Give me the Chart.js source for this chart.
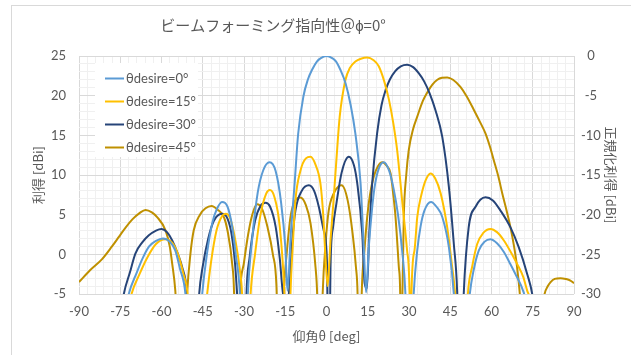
<!DOCTYPE html>
<html>
<head>
<meta charset="utf-8">
<script src="https://cdn.jsdelivr.net/npm/chart.js@4/dist/chart.umd.min.js"></script>
<style>
  html, body { margin: 0; padding: 0; background: #fff; }
  #wrap { width: 631px; height: 355px; }
</style>
</head>
<body>
<div id="wrap"><canvas id="beamChart" width="631" height="355"></canvas></div>
<script>
// ── Data (angle in deg, gain in dBi) ────────────────────────────────
const SERIES_LABELS = ["θdesire=0°", "θdesire=15°", "θdesire=30°", "θdesire=45°"];
const X_TICKS = [-90, -75, -60, -45, -30, -15, 0, 15, 30, 45, 60, 75, 90];
const Y_TICKS = [-5, 0, 5, 10, 15, 20, 25];
const Y2_TICKS = [-30, -25, -20, -15, -10, -5, 0];

const ANG_0 = [-80, -71.9, -69, -67, -64.5, -62, -59.5, -57, -55, -53.3, -51.3, -48.5,
  -45.2, -43.5, -41.5, -40, -38, -36, -34.3, -33, -31.5, -30,
  -28.6, -27, -25, -23, -20.7, -18.5, -16.5, -15, -14.2,
  -13, -11.6, -10.3, -8.4, -6.8, -5.2, -3.5, -2.2, 0, 2.2, 3.5, 5, 6.9, 8.8, 10.5, 12.4, 13.6, 14.4,
  15.4, 16.5, 17.5, 19, 20.8, 22.8, 24.5, 26, 27.5, 28.7, 30,
  31.7, 33, 34.2, 35.6, 38, 40, 42.1, 44.5, 46.3, 48.5,
  52.1, 53.5, 55.4, 57.5, 59.6, 62, 64.5, 66.5, 68.7, 71.7, 72.5, 80];
const GAIN_0 = [-20, -5, -2.3, -0.6, 1.0, 1.7, 2.0, 1.6, 0.5, -1.8, -5, -20,
  -5, 0, 4, 5.6, 6.6, 6.0, 3.5, 0, -5, -20,
  -5, 2, 7.8, 10.6, 11.6, 10.5, 6.5, 1, -4.6,
  2.5, 8.9, 15.2, 19.9, 22.0, 23.3, 24.3, 24.7, 25, 24.7, 24.3, 23.3, 21.6, 18.8, 15.2, 8.9, 0.5, -4.8,
  1, 5.5, 8.5, 10.8, 11.6, 10.5, 8.1, 5, 0.5, -5, -20,
  -5, 0.5, 3.5, 5.5, 6.6, 6.0, 4.7, 0.9, -5, -20,
  -5, -2, 0.5, 1.6, 1.9, 1.4, 0.3, -1.0, -2.5, -4.8, -6, -20];

const ANG_15 = [-80, -70.9, -68, -65, -62, -58.5, -56, -54, -52, -50.5, -47.8,
  -43.4, -42, -40, -38, -36.7, -35, -33, -31.5, -30.7, -29.4,
  -27.6, -26, -24, -22, -20.6, -19, -17, -15.3, -14,
  -13.1, -12.2, -11.3, -9.5, -7.5, -5.8, -4, -2.2, -1.2, -0.5, 0.4,
  1.5, 2.5, 3.6, 4.8, 6.9, 8.5, 10.5, 12.5, 14.8, 17, 19, 21, 22.7, 24.3, 25.7, 27.5, 29.3, 30.2, 30.6,
  30.9, 32, 33, 34.5, 36, 37.8, 39.5, 41.5, 43.9, 45.7, 46.8, 49.4,
  51.4, 53, 54.8, 57, 59.6, 62, 64.5, 67, 69.3, 71.5, 73, 73.9, 80];
const GAIN_15 = [-20, -5, -2.5, -0.3, 1.3, 1.9, 1.4, 0, -2.5, -5, -20,
  -5, -1, 3, 4.8, 5.1, 4.5, 1.5, -2, -5, -20,
  -5, 0, 5, 7.6, 8.1, 7.3, 3.5, -5, -20,
  -5, 1.5, 6.8, 10.5, 12.1, 12.3, 11.3, 8.9, 5, 0.5, -4.0,
  2, 6.5, 11.9, 17.35, 22, 23.5, 24.3, 24.65, 24.8, 24.5, 23.7, 21.8, 19.5, 16.5, 13.1, 6.8, 0.5, -5, -20,
  -5, 0.5, 4.7, 7.5, 9.3, 10.2, 9.6, 7.7, 3.4, -1.6, -5, -20,
  -5, -1.5, 1.3, 2.7, 3.2, 2.8, 1.75, 0.3, -1.2, -2.8, -4.6, -5.5, -20];

const ANG_30 = [-80, -73.7, -71.5, -69.5, -67, -64.6, -62, -60, -58, -56.1, -54, -52.5, -50.7, -48.6,
  -46.3, -45, -43, -41, -38, -36, -34.5, -33.3, -32.5, -30,
  -29.1, -28, -26, -24, -22.2, -20.5, -18.5, -17, -15.8, -14.6,
  -13.7, -12.5, -11.3, -9, -6.4, -4.5, -2.8, -1, 0.2, 0.8,
  1.5, 2.4, 3.6, 5.5, 8.1, 10, 11.2, 13, 13.9, 14.7,
  15.6, 16.6, 18.4, 20, 21.5, 23, 25, 27, 29.3, 31.5, 33.6, 35.5, 37.5, 39.6, 42.1, 44.5, 46.3, 47.5, 48.6,
  49.9, 51.7, 54.2, 57.8, 60.5, 63.3, 66.9, 69.9, 73, 74.8, 80];
const GAIN_30 = [-20, -5, -2.3, 0.1, 1.5, 2.4, 3.0, 3.2, 2.8, 1.75, 0, -1.6, -5, -20,
  -5, -1.5, 2, 4.2, 5.1, 4.5, 2.5, -1, -5, -20,
  -5, -0.5, 4.2, 6.1, 6.5, 6.0, 3.5, -0.5, -5, -5.8,
  -5, 1.5, 5.5, 8.0, 8.7, 8.0, 6.0, 3.0, -1.2, -20,
  -1, 3.5, 6.4, 10.3, 12.3, 11.2, 8.9, 2.6, -3.7, -4.3,
  3, 8.9, 15.25, 18.8, 20.7, 22.0, 23.1, 23.7, 23.9, 23.6, 22.8, 21.8, 20.3, 18.2, 14.8, 8.5, 1.3, -4.6, -20,
  -5, 3.4, 6.0, 7.2, 6.8, 5.5, 3.4, 0.9, -2.5, -5, -20];

const ANG_45 = [-90, -86, -81.6, -78, -75.5, -73, -70.6, -68, -65.8, -63.5, -61.6, -58.5, -57, -56.1, -55, -52.5,
  -50.7, -49.5, -48.3, -46, -44, -41.8, -39.5, -37.3, -36, -34.3, -33.6, -32.9,
  -31.5, -30, -28.5, -27, -25.2, -23.5, -21.5, -19.5, -18.2, -17,
  -15.6, -14.5, -13.1, -11.5, -9.5, -7.5, -5.8, -4.0, -3.4, -2.5,
  -1.4, -0.3, 0.8, 2.5, 4.5, 5.5, 7.7, 9.5, 10.7, 11.3, 12,
  12.8, 13.8, 14.8, 15.8, 17.2, 18.7, 20.3, 22, 23.3, 24.3, 25.1, 26.3, 26.8, 27.2,
  27.6, 28.1, 29, 29.9, 31.5, 33, 35, 36.8, 38.5, 40.3, 42, 43.9, 46, 48.7, 51, 53.6, 55.8, 57.8,
  59.5, 60.8, 62.5, 63.9, 65.5, 66.9, 68.2, 69.3, 70.3, 73.2,
  79.3, 80.5, 81.5, 83, 85.1, 87, 88.7, 90];
const GAIN_45 = [-3.5, -2, -0.6, 1.0, 2.2, 3.4, 4.4, 5.2, 5.6, 5.3, 4.7, 3.0, 1.0, -1.2, -4.5, -20,
  -5, 0, 3.0, 5.0, 5.8, 6.1, 5.6, 4.7, 3, -1.2, -5, -20,
  -5, -1, 2.5, 5.0, 6.3, 5.8, 3.5, 0, -4, -20,
  -5, 0, 4.7, 6.7, 7.15, 6.2, 3.9, -1.6, -5, -20,
  -5, 1.5, 5.5, 7.6, 8.6, 8.7, 6.8, 2.6, -1.6, -5, -20,
  -5, 0.5, 4.7, 7.5, 9.8, 11.1, 11.6, 11.1, 10.2, 7.5, 4.7, -1.6, -5, -20,
  -5, 4.7, 10, 13.1, 15.8, 17.35, 19.3, 20.5, 21.4, 22.0, 22.25, 22.3, 22.0, 21.1, 19.9, 18.2, 16.7, 15.25,
  13.5, 11.9, 9.8, 7.7, 5.5, 3.4, 1.0, -1.6, -5, -20,
  -5, -4, -3.5, -3.1, -3.0, -3.1, -3.3, -3.65];

// ── Styles ──────────────────────────────────────────────────────────
const COLORS   = ["#5B9BD5", "#FFC000", "#264478", "#BF9000"];
const TEXT_COL = "#595959";
const GRID_MAJ = "#d9d9d9";
const GRID_MIN = "#f0f0f0";
const JP_FONT  = "'Noto Sans CJK JP', sans-serif";
const NUM_FONT = "Lato, 'Noto Sans', 'Noto Sans CJK JP', sans-serif";

const toPoints = (xs, ys) => xs.map((x, i) => ({ x, y: ys[i] }));
const SERIES = [[ANG_0, GAIN_0], [ANG_15, GAIN_15], [ANG_30, GAIN_30], [ANG_45, GAIN_45]];

Chart.defaults.font.family = NUM_FONT;
Chart.defaults.color = TEXT_COL;

// Excel-style outer frame + white background
const framePlugin = {
  id: "frame",
  beforeDraw(chart) {
    const c = chart.ctx;
    c.save();
    c.fillStyle = "#fff";
    c.fillRect(0, 0, chart.width, chart.height);
    c.strokeStyle = GRID_MAJ;
    c.lineWidth = 1;
    c.strokeRect(11.5, 5.5, chart.width + 20, chart.height + 20);
    c.restore();
  },
};

// Chart title, placed like the reference (left of centre)
const titlePlugin = {
  id: "sheetTitle",
  afterDraw(chart) {
    const c = chart.ctx;
    c.save();
    c.font = "15px " + JP_FONT;
    c.fillStyle = TEXT_COL;
    c.textAlign = "center";
    c.textBaseline = "middle";
    c.fillText("ビームフォーミング指向性＠ϕ=0°", 273, 25);
    c.restore();
  },
};

// Legend box inside the plot area (top-left)
const legendPlugin = {
  id: "innerLegend",
  afterDatasetsDraw(chart) {
    const c = chart.ctx;
    const ca = chart.chartArea;
    const bx = ca.left + 16, by = ca.top + 7;
    c.save();
    c.fillStyle = "#fff";
    c.fillRect(bx, by, 103, 94);
    c.font = "13px " + NUM_FONT;
    c.textBaseline = "middle";
    c.textAlign = "left";
    chart.data.datasets.forEach((ds, i) => {
      const y = Math.round(by + 14.7 + i * 23) + 0.5;
      c.strokeStyle = ds.borderColor;
      c.lineWidth = 2;
      c.beginPath();
      c.moveTo(bx + 10, y);
      c.lineTo(bx + 29, y);
      c.stroke();
      c.fillStyle = TEXT_COL;
      c.fillText(ds.label, bx + 31, y);
    });
    c.restore();
  },
};

const gridColor = step => ctx =>
  ctx.tick && Math.round(ctx.tick.value) % step === 0 ? GRID_MAJ : GRID_MIN;

new Chart(document.getElementById("beamChart"), {
  type: "line",
  data: {
    datasets: SERIES.map(([xs, ys], i) => ({
      label: SERIES_LABELS[i],
      data: toPoints(xs, ys),
      borderColor: COLORS[i],
      backgroundColor: COLORS[i],
      borderWidth: 2,
      pointRadius: 0,
      cubicInterpolationMode: "monotone",
      fill: false,
      yAxisID: "y",
    })),
  },
  options: {
    responsive: false,
    devicePixelRatio: 1,
    animation: false,
    layout: { padding: { top: 56, left: 0, right: 0, bottom: 0 } },
    plugins: {
      legend: { display: false },
      title: { display: false },
      tooltip: { enabled: false },
    },
    scales: {
      x: {
        type: "linear",
        min: -90,
        max: 90,
        border: { display: false },
        grid: { color: gridColor(15), drawTicks: false },
        ticks: {
          stepSize: 3,
          autoSkip: false,
          maxRotation: 0,
          padding: 10,
          font: { size: 13 },
          callback: v => X_TICKS.includes(Math.round(v)) ? String(Math.round(v)) : "",
        },
        title: {
          display: true,
          text: "仰角θ [deg]",
          color: TEXT_COL,
          font: { size: 13, family: JP_FONT },
          padding: { top: 0, bottom: 11 },
        },
        afterFit: s => { s.height = 61; },
      },
      y: {
        position: "left",
        min: -5,
        max: 25,
        border: { display: false },
        grid: { color: gridColor(5), drawTicks: false },
        ticks: {
          stepSize: 1,
          autoSkip: false,
          padding: 13,
          font: { size: 13 },
          callback: v => Y_TICKS.includes(Math.round(v)) ? String(Math.round(v)) : "",
        },
        title: {
          display: true,
          text: "利得 [dBi]",
          color: TEXT_COL,
          font: { size: 13, family: JP_FONT },
          padding: { top: 30, bottom: 0 },
        },
        afterFit: s => { s.width = 79; },
      },
      y2: {
        position: "right",
        min: -30,
        max: 0,
        border: { display: false },
        grid: { drawOnChartArea: false, drawTicks: false },
        ticks: {
          stepSize: 5,
          padding: 7,
          crossAlign: "center",
          font: { size: 13 },
          callback: v => Y2_TICKS.includes(Math.round(v)) ? String(Math.round(v)) : "",
        },
        title: {
          display: true,
          text: "正規化利得 [dBi]",
          color: TEXT_COL,
          font: { size: 13, family: JP_FONT },
          padding: { top: 12, bottom: 0 },
        },
        afterFit: s => { s.width = 57; },
      },
    },
  },
  plugins: [framePlugin, legendPlugin, titlePlugin],
});
</script>
</body>
</html>
